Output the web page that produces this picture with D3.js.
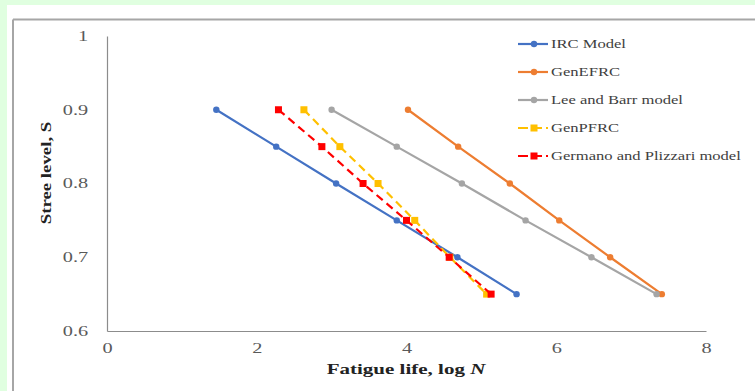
<!DOCTYPE html>
<html><head><meta charset="utf-8">
<script src="https://cdn.jsdelivr.net/npm/d3@7/dist/d3.min.js"></script>
<style>
html,body{margin:0;padding:0;background:#e0ffe0;}
svg{display:block;}
</style></head>
<body>
<svg id="chart" width="755" height="391"></svg>
<script>
const stressLevels = [0.9, 0.85, 0.8, 0.75, 0.7, 0.65];
const ircModel = [1.46, 2.26, 3.06, 3.87, 4.68, 5.47];
const genEFRC = [4.02, 4.69, 5.38, 6.04, 6.72, 7.41];
const leeBarr = [3.0, 3.87, 4.74, 5.59, 6.47, 7.34];
const genPFRC = [2.63, 3.11, 3.62, 4.11, 4.58, 5.07];
const germano = [2.29, 2.87, 3.42, 4.0, 4.57, 5.13];
const xTicks = [0, 2, 4, 6, 8];
const yTicks = [0.6, 0.7, 0.8, 0.9, 1];
const seriesNames = ["IRC Model", "GenEFRC", "Lee and Barr model", "GenPFRC", "Germano and Plizzari model"];

const series = [
  {name: seriesNames[0], values: ircModel, color: "#4472C4", dash: null, marker: "circle"},
  {name: seriesNames[1], values: genEFRC, color: "#ED7D31", dash: null, marker: "circle"},
  {name: seriesNames[2], values: leeBarr, color: "#A5A5A5", dash: null, marker: "circle"},
  {name: seriesNames[3], values: genPFRC, color: "#FFC000", dash: "8,5", marker: "square"},
  {name: seriesNames[4], values: germano, color: "#FF0000", dash: "8,5", marker: "square"}
];

const svg = d3.select("#chart");
const serif = "'Liberation Serif','Times New Roman',serif";
const stretch = 1.45;

// white panel and frame
svg.append("rect").attr("x", 7).attr("y", 5).attr("width", 748).attr("height", 386).attr("fill", "#fff");
svg.append("line").attr("x1", 13).attr("x2", 755).attr("y1", 19.5).attr("y2", 19.5).attr("stroke", "#a6a6a6").attr("stroke-width", 2);
svg.append("line").attr("x1", 13).attr("x2", 13).attr("y1", 19.5).attr("y2", 391).attr("stroke", "#a6a6a6").attr("stroke-width", 2);

const x = d3.scaleLinear().domain([0, 8]).range([107, 706]);
const y = d3.scaleLinear().domain([0.6, 1]).range([331, 36]);

// axes
const xAxis = svg.append("g").attr("transform", "translate(0,331)")
  .call(d3.axisBottom(x).tickValues(xTicks).tickSize(0).tickPadding(12).tickFormat(d3.format("d")));
const yAxis = svg.append("g").attr("transform", "translate(107,0)")
  .call(d3.axisLeft(y).tickValues(yTicks).tickSize(0).tickPadding(13).tickFormat(d => d === 1 ? "1" : d3.format(".1f")(d)));
[xAxis, yAxis].forEach(g => {
  g.select(".domain").attr("stroke", "#8c8c8c").attr("stroke-width", 1.2);
  g.selectAll("text").attr("font-family", serif).attr("font-size", 14).attr("fill", "#595959")
    .attr("transform", `scale(${stretch},1)`);
});

// axis titles
const xt = svg.append("text").attr("transform", `translate(406,374) scale(${stretch},1)`).attr("text-anchor", "middle")
  .attr("font-family", serif).attr("font-size", 14.5).attr("font-weight", "bold").attr("fill", "#222");
xt.append("tspan").text("Fatigue life, log ");
xt.append("tspan").attr("font-style", "italic").text("N");
svg.append("text").attr("transform", `translate(51,173) rotate(-90) scale(1.3,1)`).attr("text-anchor", "middle")
  .attr("font-family", serif).attr("font-size", 14.5).attr("font-weight", "bold").attr("fill", "#222")
  .text("Stree level, S");

// series
const line = d3.line().x(d => x(d[0])).y(d => y(d[1]));
series.forEach(s => {
  const pts = s.values.map((v, i) => [v, stressLevels[i]]);
  svg.append("path").datum(pts).attr("d", line).attr("fill", "none")
    .attr("stroke", s.color).attr("stroke-width", 2.2)
    .attr("stroke-dasharray", s.dash);
  if (s.marker === "circle") {
    svg.append("g").selectAll("circle").data(pts).join("circle")
      .attr("cx", d => x(d[0])).attr("cy", d => y(d[1])).attr("r", 3.2).attr("fill", s.color);
  } else {
    svg.append("g").selectAll("rect").data(pts).join("rect")
      .attr("x", d => x(d[0]) - 3.5).attr("y", d => y(d[1]) - 3.5).attr("width", 7).attr("height", 7).attr("fill", s.color);
  }
});

// legend
const lg = svg.append("g");
series.forEach((s, i) => {
  const ly = 44 + i * 28;
  const g = lg.append("g");
  g.append("line").attr("x1", 518).attr("x2", 548).attr("y1", ly).attr("y2", ly)
    .attr("stroke", s.color).attr("stroke-width", 2.2).attr("stroke-dasharray", s.dash ? "10,4" : null);
  if (s.marker === "circle") g.append("circle").attr("cx", 534).attr("cy", ly).attr("r", 3.2).attr("fill", s.color);
  else g.append("rect").attr("x", 530.5).attr("y", ly - 3.5).attr("width", 7).attr("height", 7).attr("fill", s.color);
  g.append("text").attr("transform", `translate(551,${ly + 4}) scale(1.38,1)`).attr("font-family", serif).attr("font-size", 12)
    .attr("fill", "#404040").text(s.name);
});
</script>
</body></html>
